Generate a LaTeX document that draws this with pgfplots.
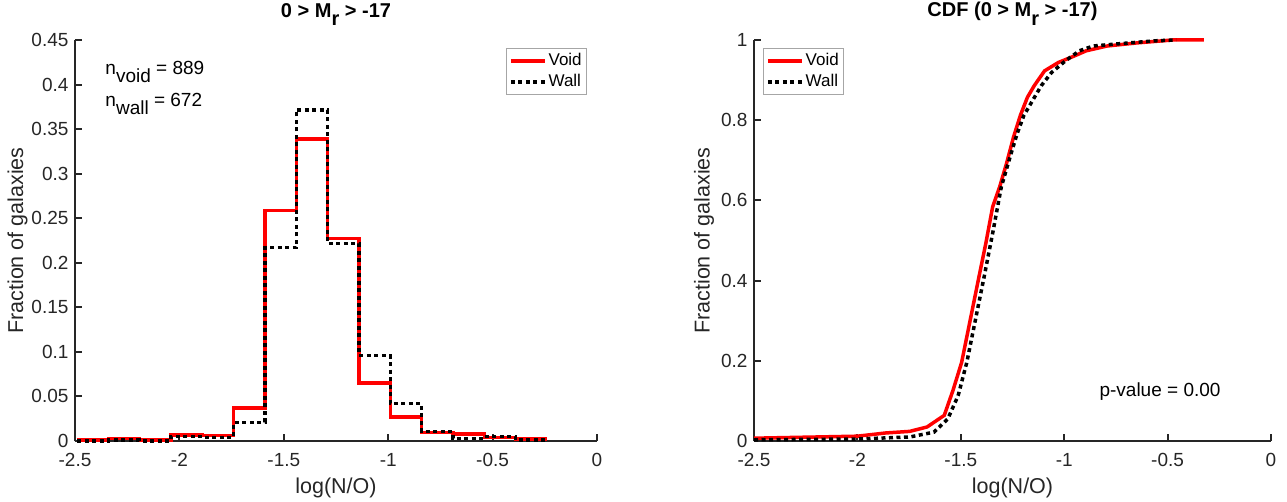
\documentclass[border=0pt]{standalone}
\usepackage{fontspec}
\setmainfont{Liberation Sans}
\usepackage{pgfplots}
\pgfplotsset{compat=1.18}
\definecolor{axgray}{HTML}{262626}
\definecolor{mred}{HTML}{FF0000}
\newcommand{\fs}{\fontsize{19pt}{22pt}\selectfont}
\newcommand{\fl}{\fontsize{21.5pt}{24pt}\selectfont}
\newcommand{\ft}{\fontsize{20pt}{24pt}\selectfont}
\newcommand{\fg}{\fontsize{17pt}{20pt}\selectfont}
\newcommand{\sub}[1]{\raisebox{-0.8ex}{#1}}
\begin{document}
\fs
\begin{tikzpicture}
\useasboundingbox (0pt,0pt) rectangle (1287pt,501pt);
\pgfplotsset{
  myax/.style={
    scale only axis, anchor=south west, height=401pt,
    axis lines*=left,
    axis line style={axgray, line width=2pt},
    tick align=inside, major tick length=7pt,
    tick style={axgray, line width=2pt},
    xmin=-2.5, xmax=0,
    xtick={-2.5,-2,-1.5,-1,-0.5,0},
    xticklabels={-2.5,-2,-1.5,-1,-0.5,0},
    ticklabel style={font=\fs, text=axgray},
    xticklabel style={yshift=-6pt},
    label style={font=\fl, text=axgray},
    xlabel style={yshift=2pt},
    title style={font=\ft\bfseries, text=black, at={(rel axis cs:0.5,1)}, anchor=base, yshift=17pt},
    xlabel={log(N/O)},
    ylabel={Fraction of galaxies},
    clip=false,
    legend cell align=left,
    legend style={font=\fg, draw=gray!70, line width=0.8pt, fill=white, inner xsep=3pt, inner ysep=3pt, row sep=2pt},
    legend image code/.code={\draw[##1] (0pt,0pt) -- (34pt,0pt);},
  },
  redl/.style={mred, line width=3.5pt},
  blkl/.style={black, line width=3.5pt, dash pattern=on 4pt off 3.5pt},
}
\begin{axis}[myax, at={(75pt,60pt)}, width=522pt,
  ymin=0, ymax=0.45,
  ytick={0,0.05,0.1,0.15,0.2,0.25,0.3,0.35,0.4,0.45},
  yticklabels={0,0.05,0.1,0.15,0.2,0.25,0.3,0.35,0.4,0.45},
  ylabel style={yshift=-9pt},
  title={0 > M\sub{r} > -17},
  legend style={at={(rel axis cs:0.981,0.98)}, anchor=north east},
]
\addplot[redl, const plot mark left] coordinates {
(-2.49,0.001)(-2.34,0.003)(-2.19,0.001)(-2.04,0.0067)(-1.89,0.006)(-1.74,0.037)
(-1.59,0.2585)(-1.44,0.339)(-1.29,0.227)(-1.14,0.065)(-0.99,0.027)(-0.84,0.0096)
(-0.69,0.008)(-0.54,0.0037)(-0.39,0.002)(-0.24,0.002)};
\addlegendentry{Void}
\addplot[blkl, const plot mark left] coordinates {
(-2.49,0.0)(-2.34,0.001)(-2.19,0.0)(-2.04,0.005)(-1.89,0.004)(-1.74,0.021)
(-1.59,0.217)(-1.44,0.3715)(-1.29,0.2215)(-1.14,0.096)(-0.99,0.042)(-0.84,0.0104)
(-0.69,0.003)(-0.54,0.005)(-0.39,0.001)(-0.24,0.001)};
\addlegendentry{Wall}
\node[anchor=base west, font=\fs, inner sep=0pt] at (axis cs:-2.355,0.411) {n\sub{void} = 889};
\node[anchor=base west, font=\fs, inner sep=0pt] at (axis cs:-2.355,0.375) {n\sub{wall} = 672};
\end{axis}
\begin{axis}[myax, at={(754pt,60pt)}, width=517pt,
  ymin=0, ymax=1,
  ytick={0,0.2,0.4,0.6,0.8,1},
  yticklabels={0,0.2,0.4,0.6,0.8,1},
  ylabel style={yshift=-6pt},
  title={CDF (0 > M\sub{r} > -17)},
  legend style={at={(rel axis cs:0.017,0.98)}, anchor=north west},
]
\addplot[redl] coordinates {
(-2.5,0.007)(-2.0,0.012)(-1.864,0.02)(-1.747,0.024)(-1.663,0.035)(-1.58,0.064)
(-1.538,0.126)(-1.496,0.196)(-1.454,0.303)(-1.412,0.41)(-1.379,0.493)(-1.346,0.584)
(-1.312,0.634)(-1.279,0.692)(-1.245,0.758)(-1.212,0.812)(-1.178,0.857)(-1.145,0.886)
(-1.095,0.923)(-1.028,0.944)(-0.961,0.958)(-0.894,0.973)(-0.793,0.985)(-0.643,0.993)
(-0.476,1.0)(-0.325,1.0)};
\addlegendentry{Void}
\addplot[blkl] coordinates {
(-2.5,0.003)(-2.0,0.005)(-1.747,0.01)(-1.63,0.022)(-1.563,0.055)(-1.513,0.113)
(-1.471,0.196)(-1.429,0.303)(-1.387,0.41)(-1.346,0.518)(-1.304,0.634)(-1.262,0.708)
(-1.228,0.766)(-1.195,0.812)(-1.153,0.849)(-1.111,0.886)(-1.061,0.919)(-0.994,0.948)
(-0.927,0.973)(-0.86,0.985)(-0.727,0.991)(-0.559,0.998)(-0.459,1.0)};
\addlegendentry{Wall}
\node[anchor=base west, font=\fs, inner sep=0pt] at (axis cs:-0.83,0.11) {p-value = 0.00};
\end{axis}
\end{tikzpicture}
\end{document}
